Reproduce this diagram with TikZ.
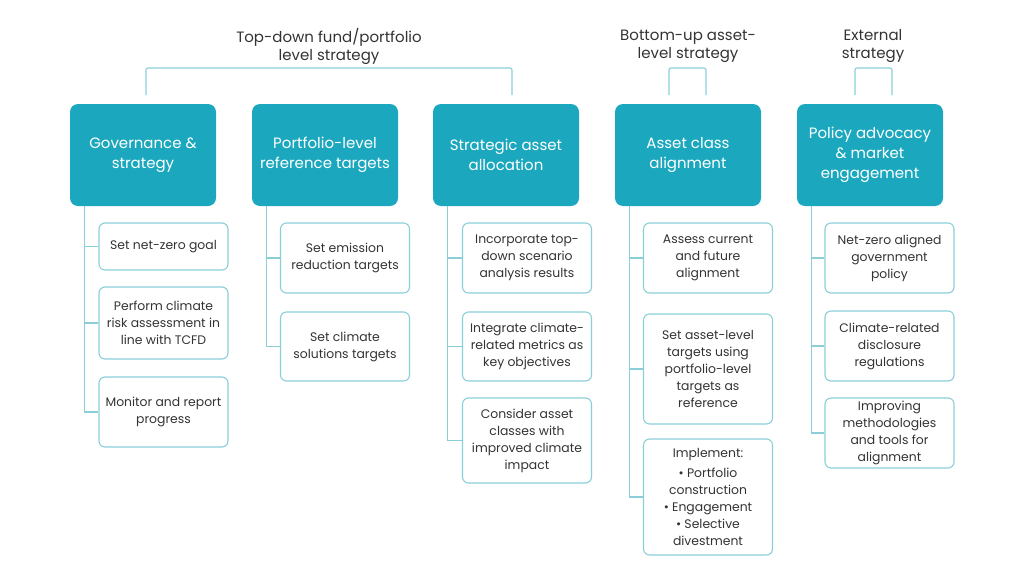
\documentclass[tikz,border=0pt]{standalone}
\usepackage{fontspec}
\setmainfont{Poppins}
\usepackage{tikz}
\usetikzlibrary{positioning}
\definecolor{teal1}{HTML}{1BA8BE}
\definecolor{line1}{HTML}{8ACFD8}
\definecolor{ink}{HTML}{333333}

\begin{document}
\begin{tikzpicture}[
    x=1pt, y=-1pt,
    head/.style={fill=teal1, rounded corners=8pt, align=center, text=white, minimum width=146pt, minimum height=102pt, font=\fontsize{15}{20}\selectfont},
    item/.style={draw=line1, line width=1.1pt, rounded corners=6pt, align=center, text=ink, minimum width=129pt, inner sep=1pt, font=\fontsize{12.4}{17}\selectfont},
    title/.style={align=center, text=ink, font=\fontsize{15}{18}\selectfont},
    link/.style={draw=line1, line width=1.1pt}
]
\useasboundingbox (0,0) rectangle (1024,576);

% group titles
\node[title] (tdtitle) at (329,46) {Top-down fund/portfolio\\level strategy};
\node[title] (butitle) at (688,46) {Bottom-up asset-\\level strategy};
\node[title] (extitle) at (873,46) {External\\strategy};

% column heads
\node[head] (gov) at (143,155) {Governance \&\\strategy};
\node[head] (ref) at (325,155) {Portfolio-level\\reference targets};
\node[head] (saa) at (506,155) {Strategic asset\\allocation};
\node[head] (acl) at (688,155) {Asset class\\alignment};
\node[head] (pol) at (870,155) {Policy advocacy\\\& market\\engagement};

% brackets
\coordinate (td1) at (146,95);
\coordinate (td2) at (512,95);
\coordinate (bu1) at (669,95);
\coordinate (bu2) at (706,95);
\coordinate (ex1) at (855,95);
\coordinate (ex2) at (892,95);
\draw[link, rounded corners=2pt] (td1) -- ++(0,-27) -| (td2);
\draw[link, rounded corners=2pt] (bu1) -- ++(0,-27) -| (bu2);
\draw[link, rounded corners=2pt] (ex1) -- ++(0,-27) -| (ex2);

% governance
\node[item, minimum height=47pt] (gov1) at (163.5,246.5) {Set net-zero goal};
\node[item, minimum height=72pt] (gov2) at (163.5,323) {Perform climate\\risk assessment in\\line with TCFD};
\node[item, minimum height=70pt] (gov3) at (163.5,412) {Monitor and report\\progress};

% reference targets
\node[item, minimum height=70pt] (ref1) at (345,258) {Set emission\\reduction targets};
\node[item, minimum height=69pt] (ref2) at (345,346.5) {Set climate\\solutions targets};

% asset allocation
\node[item, minimum height=70pt] (saa1) at (527,258) {Incorporate top-\\down scenario\\analysis results};
\node[item, minimum height=69pt] (saa2) at (527,346.5) {Integrate climate-\\related metrics as\\key objectives};
\node[item, minimum height=85pt] (saa3) at (527,440.5) {Consider asset\\classes with\\improved climate\\impact};

% asset class
\node[item, minimum height=70pt] (acl1) at (708,258) {Assess current\\and future\\alignment};
\node[item, minimum height=110pt] (acl2) at (708,369) {Set asset-level\\targets using\\portfolio-level\\targets as\\reference};
\node[item, minimum height=116pt] (acl3) at (708,497) {Implement:\\[3pt]• Portfolio\\construction\\• Engagement\\• Selective\\divestment};

% policy
\node[item, minimum height=70pt] (pol1) at (889.5,258) {Net-zero aligned\\government\\policy};
\node[item, minimum height=70pt] (pol2) at (889.5,346) {Climate-related\\disclosure\\regulations};
\node[item, minimum height=70pt] (pol3) at (889.5,433) {Improving\\methodologies\\and tools for\\alignment};

% trunks and branches
\foreach \h/\last in {gov/gov3, ref/ref2, saa/saa3, acl/acl3, pol/pol3}
  \draw[link] ([xshift=14.5pt]\h.south west) coordinate (\h x) |- (\last.west);
\foreach \h/\b in {gov/gov1, gov/gov2, ref/ref1, saa/saa1, saa/saa2, acl/acl1, acl/acl2, pol/pol1, pol/pol2}
  \draw[link] (\b.west) -- (\b.west -| \h x);
\end{tikzpicture}
\end{document}
